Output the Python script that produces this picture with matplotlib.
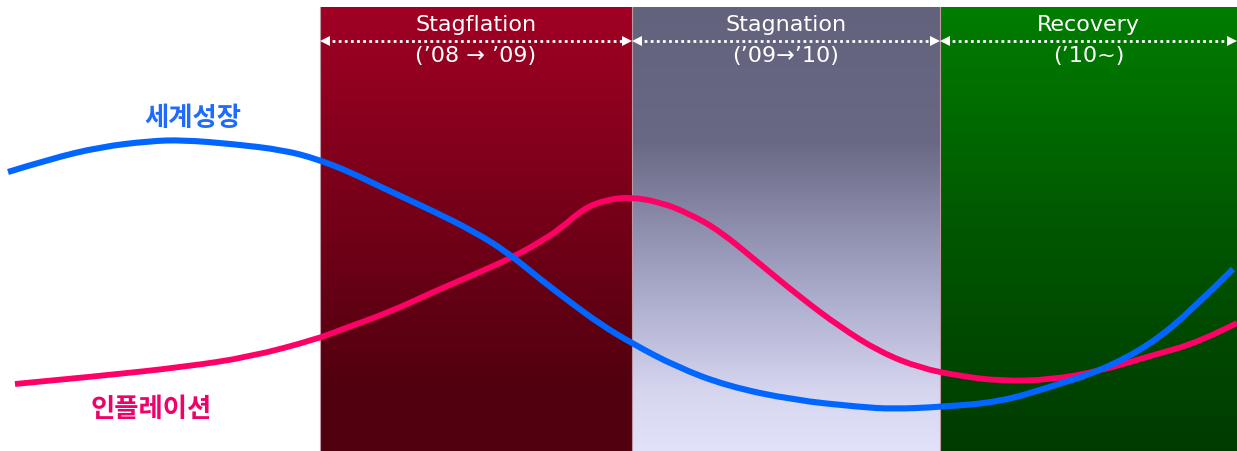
import numpy as np
import matplotlib.pyplot as plt
from matplotlib.colors import LinearSegmentedColormap
from matplotlib.path import Path
from matplotlib.patches import PathPatch

plt.rcParams['font.family'] = ['DejaVu Sans', 'Noto Sans CJK KR']

# phases of the cycle: name, period label, x-span
phase_names = ["Stagflation", "Stagnation", "Recovery"]
phase_periods = ["(’08 → ’09)", "(’09→’10)", "(’10~)"]
phase_starts = [320, 632, 940]
phase_ends = [632, 940, 1237]

# world growth curve
growth_x = [8, 50, 100, 150, 183, 233, 283, 317, 350, 383, 433, 473, 507, 540,
            570, 600, 633, 677, 727, 793, 860, 893, 940, 1000, 1050, 1100, 1150,
            1193, 1233]
growth_y = [173, 160, 148, 142, 141, 145, 151, 160, 173, 189, 212, 232, 253, 280,
            303, 325, 345, 368, 387, 401, 408, 410, 408, 403, 388, 372, 346,
            310, 270]

# inflation curve
infl_x = [15, 100, 183, 250, 317, 340, 390, 433, 480, 513, 540, 560, 583, 605,
          630, 660, 690, 720, 760, 800, 840, 880, 920, 960, 1000, 1050, 1100,
          1150, 1200, 1237]
infl_y = [385, 377, 368, 358, 340, 331, 313, 293, 273, 258, 243, 230, 210, 201,
          198, 203, 215, 232, 265, 298, 328, 353, 369, 377, 382, 381, 372,
          357, 343, 324]

W, H = 1237, 452
TOP = 8

phase_cmaps = [
    LinearSegmentedColormap.from_list("stag", [
        (0.0, (0.63, 0.0, 0.14)), (0.85, (0.32, 0.0, 0.06)), (1.0, (0.32, 0.0, 0.06))]),
    LinearSegmentedColormap.from_list("stagn", [
        (0.0, (0.385, 0.385, 0.49)), (0.3, (0.41, 0.41, 0.52)), (0.65, (0.67, 0.67, 0.80)),
        (0.87, (0.84, 0.84, 0.94)), (1.0, (0.885, 0.885, 0.98))]),
    LinearSegmentedColormap.from_list("recov", [
        (0.0, (0.0, 0.49, 0.0)), (0.55, (0.0, 0.33, 0.0)), (1.0, (0.0, 0.23, 0.0))]),
]


def smooth_path(xs, ys):
    # quadratic b-spline: points act as control points, midpoints lie on the curve
    pts = np.column_stack([xs, ys]).astype(float)
    verts = [pts[0]]
    codes = [Path.MOVETO]
    for i in range(1, len(pts) - 1):
        mid = (pts[i] + pts[i + 1]) / 2 if i < len(pts) - 2 else pts[i + 1]
        verts += [pts[i], mid]
        codes += [Path.CURVE3, Path.CURVE3]
    return Path(verts, codes)


fig = plt.figure(figsize=(W / 100, H / 100), dpi=100)
ax = fig.add_axes([0, 0, 1, 1])
ax.set_xlim(0, W)
ax.set_ylim(H, 0)
ax.axis("off")

grad = np.linspace(0, 1, 256).reshape(-1, 1)
for name, period, x0, x1, cmap in zip(phase_names, phase_periods, phase_starts,
                                      phase_ends, phase_cmaps):
    ax.imshow(grad, cmap=cmap, extent=(x0, x1, H, TOP), aspect="auto",
              interpolation="bilinear", zorder=1)
    ax.axvline(x0, ymin=0, ymax=1 - TOP / H, color=(0.75, 0.6, 0.65), lw=0.8, zorder=2)
    xc = (x0 + x1) / 2
    ax.text(xc, 25, name, color="white", fontsize=16, ha="center", va="center", zorder=5)
    ax.text(xc, 56, period, color="white", fontsize=16, ha="center", va="center", zorder=5)
    # dotted double arrow across the phase
    ax.plot([x0 + 6, x1 - 6], [42, 42], color="white", lw=2, ls=(0, (1, 1.2)),
            zorder=5, solid_capstyle="butt")
    ax.plot([x0 + 5], [42], marker="<", color="white", ms=7, mew=0, zorder=6)
    ax.plot([x1 - 5], [42], marker=">", color="white", ms=7, mew=0, zorder=6)

ax.add_patch(PathPatch(smooth_path(infl_x, infl_y), fill=False, edgecolor="#ff0066",
                       lw=4.2, capstyle="butt", zorder=4))
ax.add_patch(PathPatch(smooth_path(growth_x, growth_y), fill=False, edgecolor="#0066ff",
                       lw=4.4, capstyle="butt", zorder=4))

ax.text(193, 118, "세계성장", color="#1f6bff", fontsize=19, fontweight="bold",
        ha="center", va="center", family=["Noto Sans CJK KR"])
ax.text(151, 410, "인플레이션", color="#f0006a", fontsize=19, fontweight="bold",
        ha="center", va="center", family=["Noto Sans CJK KR"])

fig.savefig("out.png", dpi=100, facecolor="white")
